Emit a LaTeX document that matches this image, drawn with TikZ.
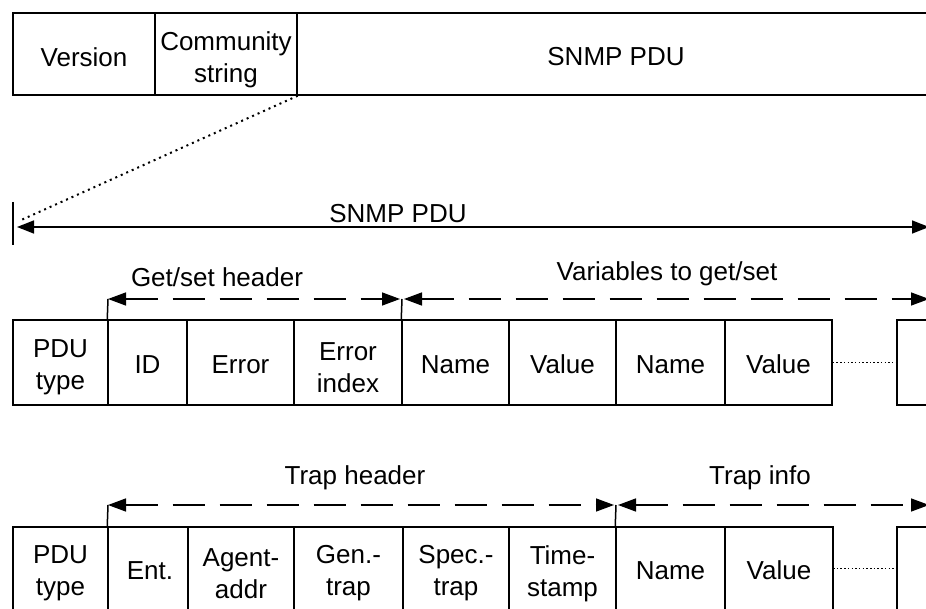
\documentclass[tikz,border=0pt]{standalone}
\usepackage{fontspec}
\setmainfont{Liberation Sans}
\usetikzlibrary{arrows.meta}
\begin{document}
\begin{tikzpicture}[x=1pt,y=-1pt,
  cell/.style={draw, line width=1.5pt, inner sep=0pt},
  txt/.style={inner sep=0pt, align=center, font=\fontsize{26}{32}\selectfont},
  one/.style={txt, yshift=-2pt},
  two/.style={txt, yshift=-5pt},
  lbl/.style={inner sep=0pt, font=\fontsize{26}{32}\selectfont},
  conn/.style={line width=1.5pt},
  solidarr/.style={line width=1.5pt,
    {Triangle[length=17pt,width=13pt]}-{Triangle[length=17pt,width=13pt]}},
  dashline/.style={line width=1.5pt, dash pattern=on 32pt off 15pt,
    {Triangle[length=18pt,width=13pt]}-{Triangle[length=18pt,width=13pt]}},
  dotline/.style={line width=2pt, dash pattern=on 2pt off 4pt},
  fineline/.style={line width=1.5pt, dash pattern=on 1.5pt off 2.2pt}]
\useasboundingbox (0,0) rectangle (926,609);
\clip (0,0) rectangle (926,609);
\fill[white] (0,0) rectangle (926,609);

% Row 1
\node[cell, minimum width=142pt, minimum height=82pt] (ver) at (84,54) {};
\node[cell, minimum width=142pt, minimum height=82pt] (com) at (226,54) {};
\node[cell, minimum width=648pt, minimum height=82pt] (pdu) at (621,54) {};
\node[txt, yshift=-3pt] (vert) at (ver.center) {Version};
\node[txt, yshift=-6pt] (comt) at (com.center) {Community\\string};
\node[txt, yshift=-3pt] (pdut) at (616,54) {SNMP PDU};

% SNMP PDU span
\coordinate (s1) at (13,227);
\coordinate (s2) at (929,227);
\coordinate (t1) at (13,202);
\coordinate (t2) at (13,245);
\draw[conn] (t1) -- (t2);
\draw[solidarr, shorten <=4pt] (s1) -- (s2);
\node[lbl] (snmp) at (398,214) {SNMP PDU};
\coordinate (d1) at (19,221);
\draw[dotline] (com.south east) -- (d1);

% Row 2
\node[cell, minimum width=95pt,  minimum height=85pt] (pt2)  at (60.5,362.5) {};
\node[cell, minimum width=79pt,  minimum height=85pt] (id2)  at (147.5,362.5) {};
\node[cell, minimum width=107pt, minimum height=85pt] (er2)  at (240.5,362.5) {};
\node[cell, minimum width=108pt, minimum height=85pt] (ei2)  at (348,362.5) {};
\node[cell, minimum width=107pt, minimum height=85pt] (na2)  at (455.5,362.5) {};
\node[cell, minimum width=107pt, minimum height=85pt] (va2)  at (562.5,362.5) {};
\node[cell, minimum width=109pt, minimum height=85pt] (nb2)  at (670.5,362.5) {};
\node[cell, minimum width=107pt, minimum height=85pt] (vb2)  at (778.5,362.5) {};
\node[cell, minimum width=63pt,  minimum height=85pt] (ls2)  at (928.5,362.5) {};
\node[two] (pt2t) at (pt2.center) {PDU\\type};
\node[one] (id2t) at (id2.center) {ID};
\node[one] (er2t) at (er2.center) {Error};
\node[two] (ei2t) at (ei2.center) {Error\\index};
\node[one] (na2t) at (na2.center) {Name};
\node[one] (va2t) at (va2.center) {Value};
\node[one] (nb2t) at (nb2.center) {Name};
\node[one] (vb2t) at (vb2.center) {Value};
\draw[fineline] (vb2.east) -- (ls2.west);

\coordinate (g1) at (108,299);
\coordinate (g2) at (402,299);
\coordinate (g3) at (929,299);
\draw[conn] (id2.north west) -- (g1);
\draw[conn] (na2.north west) -- (g2);
\draw[dashline, shorten >=2pt] (g1) -- (g2);
\draw[dashline, shorten <=2pt] (g2) -- (g3);
\node[lbl] (gsh) at (217,277) {Get/set header};
\node[lbl] (vtg) at (667,274) {Variables to get/set};

% Row 3 (open at the bottom edge)
\node[cell, minimum width=95pt,  minimum height=110pt, anchor=north] (pt3) at (60.5,526) {};
\node[cell, minimum width=80pt,  minimum height=110pt, anchor=north] (en3) at (148,526) {};
\node[cell, minimum width=106pt, minimum height=110pt, anchor=north] (ag3) at (241,526) {};
\node[cell, minimum width=109pt, minimum height=110pt, anchor=north] (ge3) at (348.5,526) {};
\node[cell, minimum width=106pt, minimum height=110pt, anchor=north] (sp3) at (456,526) {};
\node[cell, minimum width=107pt, minimum height=110pt, anchor=north] (ti3) at (562.5,526) {};
\node[cell, minimum width=109pt, minimum height=110pt, anchor=north] (na3) at (670.5,526) {};
\node[cell, minimum width=108pt, minimum height=110pt, anchor=north] (va3) at (779,526) {};
\node[cell, minimum width=63pt,  minimum height=110pt, anchor=north] (ls3) at (928.5,526) {};
\node[two] (pt3t) at (60.5,568.5) {PDU\\type};
\node[one] (en3t) at (150,568.5) {Ent.};
\node[two] (ag3t) at (241,568.5) {Agent-\\addr};
\node[two] (ge3t) at (348.5,568.5) {Gen.-\\trap};
\node[two] (sp3t) at (456,568.5) {Spec.-\\trap};
\node[two] (ti3t) at (562.5,568.5) {Time-\\stamp};
\node[one] (na3t) at (670.5,568.5) {Name};
\node[one] (va3t) at (779,568.5) {Value};
\coordinate (f3a) at (833,568.5);
\coordinate (f3b) at (897,568.5);
\draw[fineline] (f3a) -- (f3b);

\coordinate (h1) at (108,505);
\coordinate (h2) at (616,505);
\coordinate (h3) at (929,505);
\draw[conn] (en3.north west) -- (h1);
\draw[conn] (na3.north west) -- (h2);
\draw[dashline, shorten >=2pt] (h1) -- (h2);
\draw[dashline, shorten <=2pt] (h2) -- (h3);
\node[lbl] (thd) at (355,478) {Trap header};
\node[lbl] (tin) at (760,478) {Trap info};
\end{tikzpicture}
\end{document}
